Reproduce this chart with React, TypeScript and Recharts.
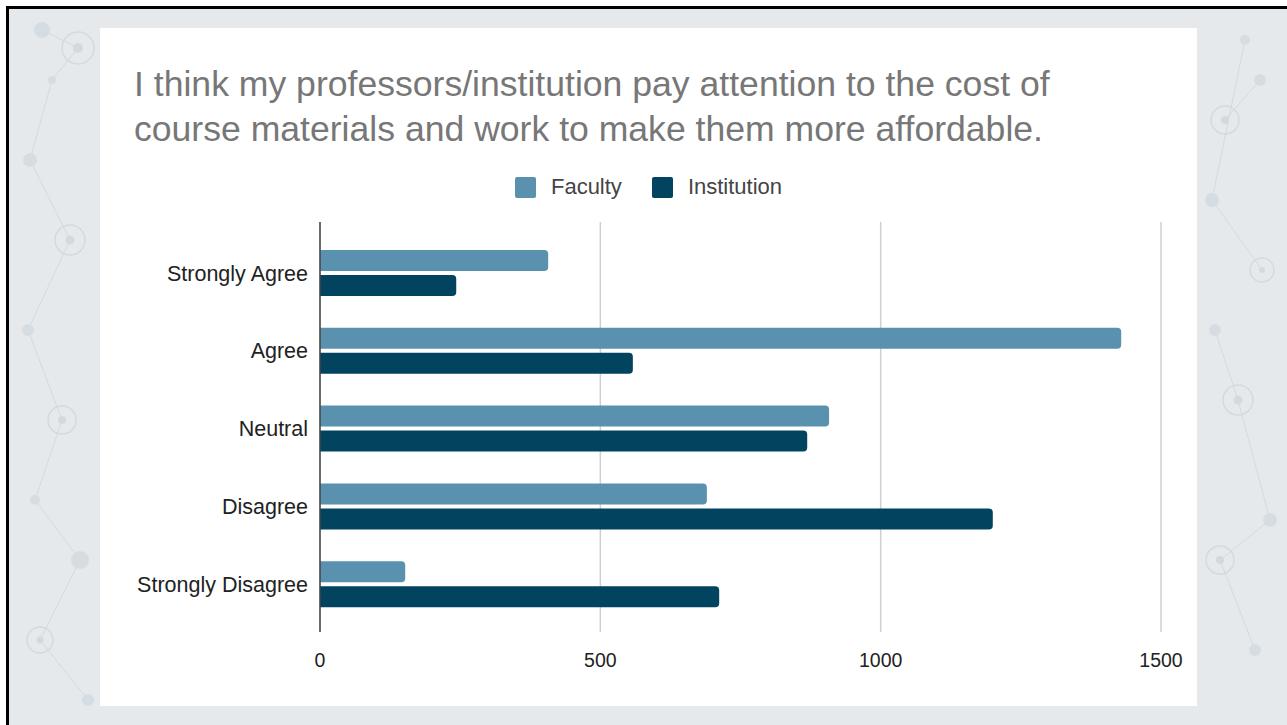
import React from "react";
import { BarChart, Bar, XAxis, YAxis, CartesianGrid, Legend } from "recharts";

const categories = ["Strongly Agree", "Agree", "Neutral", "Disagree", "Strongly Disagree"];
const facultyValues = [407, 1429, 908, 690, 152];
const institutionValues = [243, 558, 869, 1200, 712];
const xTicks = [0, 500, 1000, 1500];

const FACULTY = "#5a91af";
const INSTITUTION = "#02445f";
const FONT = "'Liberation Sans', Arial, sans-serif";

const data = categories.map((c, i) => ({
  name: c,
  Faculty: facultyValues[i],
  Institution: institutionValues[i],
}));

const LegendContent = () => (
  <div style={{ display: "flex", justifyContent: "center", alignItems: "center", fontFamily: FONT, fontSize: 22, color: "#444" }}>
    {[
      { label: "Faculty", color: FACULTY },
      { label: "Institution", color: INSTITUTION },
    ].map((it, i) => (
      <div key={it.label} style={{ display: "flex", alignItems: "center", marginLeft: i === 0 ? 0 : 30 }}>
        <svg width={21} height={21} style={{ marginRight: 15 }}>
          <rect x={0} y={0} width={21} height={21} rx={2} fill={it.color} />
        </svg>
        <span>{it.label}</span>
      </div>
    ))}
  </div>
);

const Decor = () => {
  const nodes: [number, number, number, boolean][] = [
    [42, 30, 8, false], [78, 48, 10, true], [52, 80, 4, false], [30, 160, 7, false],
    [70, 240, 9, true], [28, 330, 6, false], [62, 420, 8, true], [35, 500, 5, false],
    [80, 560, 9, false], [40, 640, 7, true], [88, 700, 6, false],
    [1225, 120, 8, true], [1260, 80, 6, false], [1215, 330, 6, false], [1238, 400, 9, true],
    [1270, 520, 7, false], [1220, 560, 8, true], [1255, 650, 6, false], [1245, 40, 5, false],
    [1212, 200, 7, false], [1262, 270, 6, true],
  ];
  return (
    <svg width={1287} height={725} style={{ position: "absolute", left: 0, top: 0 }}>
      {nodes.slice(0, -1).map((n, i) => {
        const m = nodes[i + 1];
        if (Math.hypot(m[0] - n[0], m[1] - n[1]) > 220) return null;
        return <line key={"l" + i} x1={n[0]} y1={n[1]} x2={m[0]} y2={m[1]} stroke="#d3dadf" strokeWidth={1} />;
      })}
      {nodes.map((n, i) =>
        n[3] ? (
          <g key={"n" + i}>
            <circle cx={n[0]} cy={n[1]} r={n[2] + 6} fill="none" stroke="#d3dadf" strokeWidth={1.5} />
            <circle cx={n[0]} cy={n[1]} r={n[2] / 2} fill="#d3dadf" />
          </g>
        ) : (
          <circle key={"n" + i} cx={n[0]} cy={n[1]} r={n[2]} fill="#d6dde2" />
        )
      )}
    </svg>
  );
};

export default function App() {
  return (
    <div style={{ position: "absolute", left: 0, top: 0, width: 1287, height: 725, background: "#fff", overflow: "hidden" }}>
      <div style={{ position: "absolute", left: 6, top: 6, width: 1281, height: 719, background: "#000" }} />
      <div style={{ position: "absolute", left: 9, top: 9, width: 1278, height: 716, background: "#e5e9ec", overflow: "hidden" }}>
        <div style={{ position: "absolute", left: -9, top: -9 }}>
          <Decor />
        </div>
      </div>
      <div style={{ position: "absolute", left: 100, top: 28, width: 1097, height: 678, background: "#fff" }}>
        <div style={{ position: "absolute", left: 34, top: 34, fontFamily: FONT, fontSize: 35.6, lineHeight: "45px", color: "#777", whiteSpace: "nowrap" }}>
          I think my professors/institution pay attention to the cost of
          <br />
          course materials and work to make them more affordable.
        </div>
        <div style={{ position: "absolute", left: 0, top: 0 }}>
          <BarChart
            width={1097}
            height={678}
            data={data}
            layout="vertical"
            margin={{ top: 194, right: 36, bottom: 44, left: 0 }}
            barSize={21}
            barGap={4}
          >
            <CartesianGrid horizontal={false} stroke="#cfcfcf" strokeWidth={1.5} />
            <XAxis
              type="number"
              domain={[0, 1500]}
              ticks={xTicks}
              axisLine={false}
              tickLine={false}
              tickMargin={15}
              height={30}
              tick={{ fill: "#222", fontSize: 19.5, fontFamily: FONT }}
            />
            <YAxis
              type="category"
              dataKey="name"
              width={220}
              padding={{ top: 12, bottom: 9 }}
              axisLine={{ stroke: "#444", strokeWidth: 1.5 }}
              tickLine={false}
              tickMargin={6}
              tick={{ fill: "#222", fontSize: 21.5, fontFamily: FONT }}
            />
            <Legend
              verticalAlign="middle"
              align="center"
              wrapperStyle={{ top: 146, left: 0, width: 1097 }}
              content={<LegendContent />}
            />
            <Bar dataKey="Faculty" fill={FACULTY} radius={[0, 4, 4, 0]} isAnimationActive={false} />
            <Bar dataKey="Institution" fill={INSTITUTION} radius={[0, 4, 4, 0]} isAnimationActive={false} />
          </BarChart>
        </div>
      </div>
    </div>
  );
}
